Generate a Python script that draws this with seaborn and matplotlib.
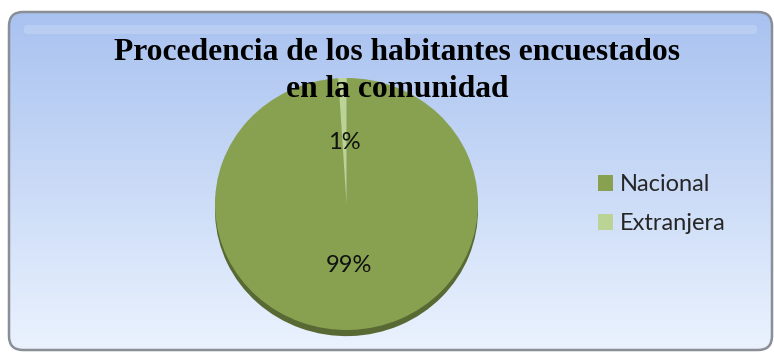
import numpy as np
import matplotlib
matplotlib.use("Agg")
import matplotlib.pyplot as plt
from matplotlib.patches import FancyBboxPatch
import seaborn as sns

# ---- data ----
categories = ["Nacional", "Extranjera"]
values = [99, 1]
title_lines = ["Procedencia de los habitantes encuestados", "en la comunidad"]

sns.set_theme(style="white")
plt.rcParams['font.family'] = ['Lato', 'DejaVu Sans']

W, H = 774, 352
fig = plt.figure(figsize=(W / 100, H / 100), dpi=100)
fig.patch.set_facecolor("white")

# ---- background panel ----
bg = fig.add_axes([0, 0, 1, 1], zorder=0)
bg.set_xlim(0, W)
bg.set_ylim(0, H)
bg.axis("off")
x0, x1 = 9, 772
y0, y1 = 2, 340  # bottom-up coordinates
pad = 14
frame = FancyBboxPatch((x0 + pad, y0 + pad), (x1 - x0) - 2 * pad, (y1 - y0) - 2 * pad,
                       boxstyle=f"round,pad={pad}", facecolor="none",
                       edgecolor="#8a8e96", linewidth=1.8, zorder=3)
bg.add_patch(frame)
top_c = np.array([0.66, 0.76, 0.94])
bot_c = np.array([0.92, 0.95, 0.995])
t = np.linspace(0, 1, 256)[:, None]
grad = (bot_c[None, :] * (1 - t) + top_c[None, :] * t)[:, None, :]
im = bg.imshow(grad, extent=(x0, x1, y0, y1), origin="lower", aspect="auto", zorder=1)
clip = FancyBboxPatch((x0 + pad, y0 + pad), (x1 - x0) - 2 * pad, (y1 - y0) - 2 * pad,
                      boxstyle=f"round,pad={pad}", facecolor="none", edgecolor="none",
                      transform=bg.transData)
im.set_clip_path(clip)
# top highlight band
hl = FancyBboxPatch((x0 + 18, y1 - 19), (x1 - x0) - 36, 3, boxstyle="round,pad=3",
                    facecolor="white", edgecolor="none", alpha=0.18, zorder=2)
bg.add_patch(hl)

# ---- pie ----
colors = ["#87a150", "#bcd396"]
ax = fig.add_axes([215 / W, (H - 330) / H, 263 / W, 252 / H], zorder=2)
wedges, texts, autotexts = ax.pie(
    values, colors=colors, startangle=90, counterclock=False,
    autopct=lambda p: f"{p:.0f}%", pctdistance=0.49,
    shadow={"ox": 0.0, "oy": -0.035, "shade": 0.35, "alpha": 1.0},
    wedgeprops=dict(linewidth=0),
    textprops=dict(fontsize=17, color="#111111", family=["Lato", "DejaVu Sans"]))
ax.set_aspect("auto")
ax.set_xlim(-1, 1)
ax.set_ylim(-1, 1)
ax.axis("off")
ax.patch.set_alpha(0)

# ---- title ----
for line, base_y in zip(title_lines, [60, 97]):
    fig.text(397.5 / W, 1 - base_y / H, line, ha="center", va="baseline",
             fontsize=22.7, fontweight="bold", family=["Liberation Serif", "DejaVu Serif"],
             color="black", zorder=5)

# ---- legend ----
fig.legend(wedges, categories, loc="upper left", bbox_to_anchor=(598 / W, 1 - 174 / H),
           frameon=False, fontsize=17, handlelength=0.64, handleheight=0.64,
           handletextpad=0.3, labelspacing=0.78, borderpad=0, borderaxespad=0)

fig.savefig("out.png", dpi=100)
